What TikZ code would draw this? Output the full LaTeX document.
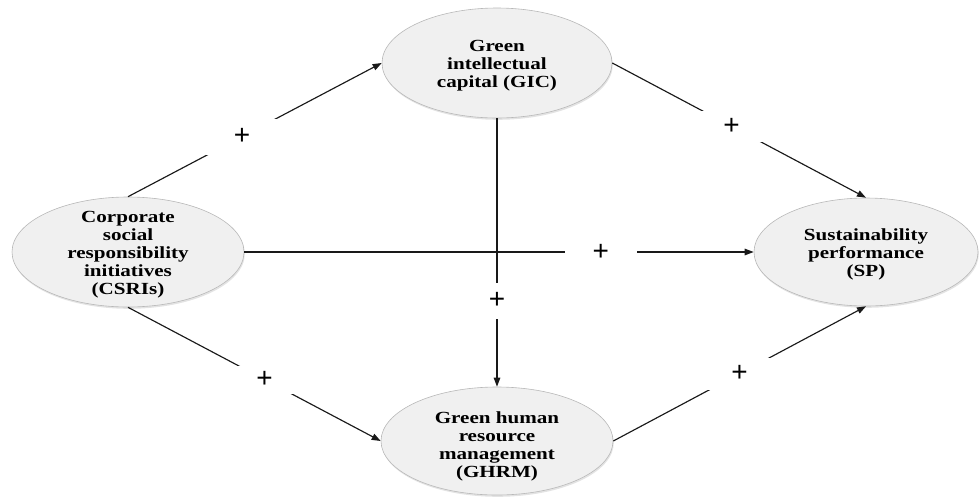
\documentclass[tikz,border=0pt]{standalone}
\usepackage{fontspec}
\newfontfamily\factorfont[FakeStretch=1.24]{Liberation Serif}
\newfontfamily\signfont{Liberation Sans}
\usetikzlibrary{shapes.geometric,arrows.meta,shadows}
\tikzset{
	factor/.style = {
		ellipse, draw=black!28, fill=black!6, line width=0.6pt, inner sep=0pt,
		drop shadow={opacity=0.22, shadow xshift=0.8pt, shadow yshift=-1.8pt}
	},
	factortext/.style = {
		align=center, inner sep=0pt,
		font=\factorfont\bfseries\fontsize{17}{18}\selectfont
	},
	effect/.style = {
		draw=black!90, line width=1.15pt, -{Triangle[length=9pt,width=6.5pt]}
	},
	plussign/.style = {
		fill=white, inner sep=0pt, minimum width=72pt, minimum height=36pt,
		font=\signfont\fontsize{28}{28}\selectfont
	}
}

\begin{document}
\begin{tikzpicture}[x=1pt, y=-1pt]
	\useasboundingbox (0,0) rectangle (979,496);
	% constructs
	\node[factor, minimum width=232pt, minimum height=110pt] (csri) at (128,252) {};
	\node[factor, minimum width=230pt, minimum height=110pt] (gic) at (497,63) {};
	\node[factor, minimum width=224pt, minimum height=108pt] (sp) at (866,252) {};
	\node[factor, minimum width=232pt, minimum height=108pt] (ghrm) at (497,441) {};
	\node[factortext] (csri-text) at ([yshift=-3pt]csri.center) {Corporate\\social\\responsibility\\initiatives\\(CSRIs)};
	\node[factortext] (gic-text) at ([yshift=-3pt]gic.center) {Green\\intellectual\\capital (GIC)};
	\node[factortext] (sp-text) at ([yshift=-2pt]sp.center) {Sustainability\\performance\\(SP)};
	\node[factortext] (ghrm-text) at ([yshift=-5pt]ghrm.center) {Green human\\resource\\management\\(GHRM)};
	% paths
	\draw[effect] (csri.north) -- node[plussign, pos=0.45] (p1) {+} (gic.west);
	\draw[effect] (csri.east) -- node[plussign, pos=0.70] (p2) {+} (sp.west);
	\draw[effect] (csri.south) -- node[plussign, pos=0.54, minimum height=28pt] (p3) {+} (ghrm.west);
	\draw[effect] (gic.south) -- node[plussign, pos=0.68] (p4) {+} (ghrm.north);
	\draw[effect] (gic.east) -- node[plussign, pos=0.47, minimum height=31pt] (p5) {+} (sp.north);
	\draw[effect] (ghrm.east) -- node[plussign, pos=0.5, minimum height=32pt] (p6) {+} (sp.south);
\end{tikzpicture}
\end{document}
